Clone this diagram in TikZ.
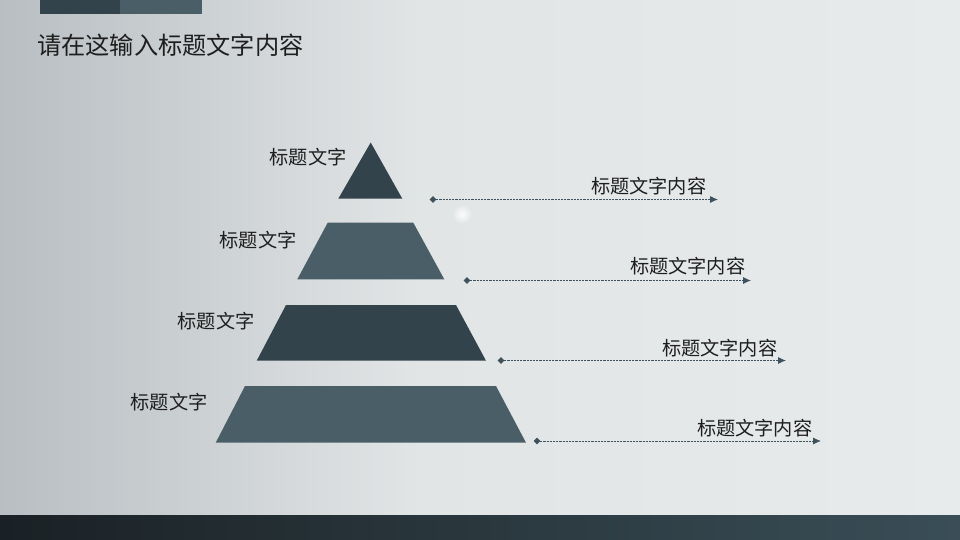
\documentclass[tikz,border=0pt]{standalone}
\usepackage{fontspec}
\setmainfont{Noto Sans CJK SC}
\usetikzlibrary{shapes.geometric,arrows.meta}
\definecolor{bgL}{HTML}{B8BEC2}
\definecolor{bgM}{HTML}{E2E5E6}
\definecolor{bgR}{HTML}{E8EBEC}
\definecolor{darkT}{HTML}{33434B}
\definecolor{lightT}{HTML}{4A5E68}
\definecolor{barL}{HTML}{1A2125}
\definecolor{barR}{HTML}{3A4E57}
\definecolor{lineC}{HTML}{3F525B}
\definecolor{txt}{HTML}{1E1E1E}
\tikzset{
  tierdark/.style={fill=darkT, draw=none},
  tierlight/.style={fill=lightT, draw=none},
  lefttxt/.style={text=txt, font=\fontsize{19.2}{21}\selectfont, inner sep=0pt},
  righttxt/.style={text=txt, font=\fontsize{19.2}{21}\selectfont, inner sep=0pt},
  dot/.style={diamond, fill=lineC, draw=none, minimum width=7pt, minimum height=7pt, inner sep=0pt},
  conn/.style={lineC, line width=0.9pt, dash pattern=on 2.2pt off 1pt, -{Latex[length=8pt,width=7pt]}},
}
\begin{document}
\begin{tikzpicture}[x=1pt,y=-1pt]
\useasboundingbox (0,0) rectangle (960,540);
% background
\shade[left color=bgL, right color=bgM] (0,0) rectangle (420,540);
\shade[left color=bgM, right color=bgR] (419.5,0) rectangle (960,540);
% glow
\shade[inner color=white, outer color=bgM, opacity=0.9] (462,214) circle (10);
% top bar
\fill[darkT] (40,0) rectangle (121,14);
\fill[lightT] (120,0) rectangle (202,14);
% bottom bar
\shade[left color=barL, right color=barR] (0,515) rectangle (960,540);
% title
\node[anchor=west, text=txt, font=\fontsize{24.2}{27}\selectfont, inner sep=0pt] (title) at (37,45) {请在这输入标题文字内容};
% pyramid
\fill[tierdark] (370.7,142.5) -- (402.3,198.7) -- (338.3,198.7) -- cycle;
\fill[tierlight] (327.7,222.7) -- (413.3,222.7) -- (444.3,279.3) -- (297.3,279.3) -- cycle;
\fill[tierdark] (286,305) -- (456,305) -- (486,360.7) -- (256.7,360.7) -- cycle;
\fill[tierlight] (245,386) -- (496,386) -- (526,442.7) -- (215.7,442.7) -- cycle;
% left labels
\node[lefttxt] (l1) at (308,157) {标题文字};
\node[lefttxt] (l2) at (258,240) {标题文字};
\node[lefttxt] (l3) at (216,321) {标题文字};
\node[lefttxt] (l4) at (169,402) {标题文字};
% right labels
\node[righttxt, anchor=east] (r1) at (706.5,186) {标题文字内容};
\node[righttxt, anchor=east] (r2) at (745.5,266) {标题文字内容};
\node[righttxt, anchor=east] (r3) at (777.5,348) {标题文字内容};
\node[righttxt, anchor=east] (r4) at (812.5,428) {标题文字内容};
% connectors
\node[dot] (d1) at (433,199.5) {};
\node[dot] (d2) at (467,280.5) {};
\node[dot] (d3) at (501,360.5) {};
\node[dot] (d4) at (537,441) {};
\coordinate (e1) at (718,199.5);
\coordinate (e2) at (751,280.5);
\coordinate (e3) at (786,360.5);
\coordinate (e4) at (821,441);
\draw[conn] (d1.center) -- (e1);
\draw[conn] (d2.center) -- (e2);
\draw[conn] (d3.center) -- (e3);
\draw[conn] (d4.center) -- (e4);
\end{tikzpicture}
\end{document}
